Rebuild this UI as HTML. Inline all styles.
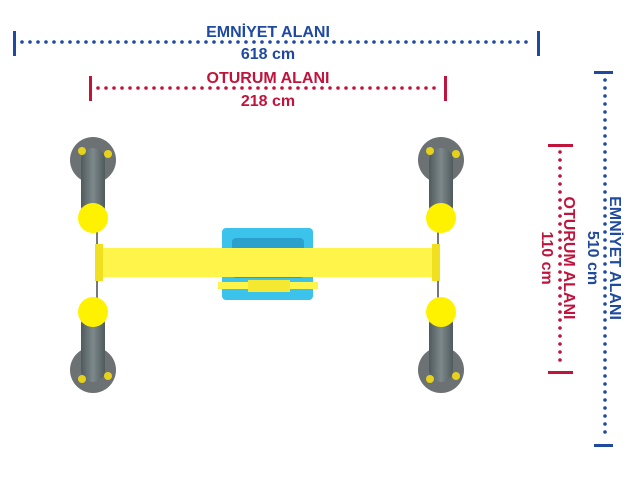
<!DOCTYPE html>
<html><head><meta charset="utf-8"><style>html,body{margin:0;padding:0;background:#fff}svg{display:block}</style></head><body>
<svg width="640" height="480" viewBox="0 0 640 480" xmlns="http://www.w3.org/2000/svg" font-family="Liberation Sans, sans-serif" font-weight="bold">
<line x1="22" y1="42" x2="534" y2="42" stroke="#1f4aa0" stroke-width="3.6" stroke-linecap="round" stroke-dasharray="0 8"/>
<rect x="13" y="31" width="3" height="25" fill="#1f4aa0"/>
<rect x="537" y="31" width="3" height="25" fill="#1f4aa0"/>
<text x="268" y="37" font-size="16" fill="#1f4aa0" text-anchor="middle">EMNİYET ALANI</text>
<text x="268" y="59" font-size="16" fill="#1f4aa0" text-anchor="middle">618 cm</text>
<line x1="98" y1="88" x2="440" y2="88" stroke="#c0143c" stroke-width="3.6" stroke-linecap="round" stroke-dasharray="0 8"/>
<rect x="89" y="76" width="3" height="25" fill="#c0143c"/>
<rect x="444" y="76" width="3" height="25" fill="#c0143c"/>
<text x="268" y="83" font-size="16" fill="#c0143c" text-anchor="middle">OTURUM ALANI</text>
<text x="268" y="106" font-size="16" fill="#c0143c" text-anchor="middle">218 cm</text>
<line x1="605" y1="80" x2="605" y2="440" stroke="#1f4aa0" stroke-width="3.6" stroke-linecap="round" stroke-dasharray="0 8"/>
<rect x="594" y="71" width="19" height="3" fill="#1f4aa0"/>
<rect x="594" y="444" width="19" height="3" fill="#1f4aa0"/>
<text transform="translate(610,258) rotate(90)" font-size="16" fill="#1f4aa0" text-anchor="middle">EMNİYET ALANI</text>
<text transform="translate(588,258) rotate(90)" font-size="16" fill="#1f4aa0" text-anchor="middle">510 cm</text>
<line x1="560" y1="152" x2="560" y2="368" stroke="#c0143c" stroke-width="3.6" stroke-linecap="round" stroke-dasharray="0 8"/>
<rect x="548" y="144" width="25" height="3" fill="#c0143c"/>
<rect x="548" y="371" width="25" height="3" fill="#c0143c"/>
<text transform="translate(564,258) rotate(90)" font-size="16" fill="#c0143c" text-anchor="middle">OTURUM ALANI</text>
<text transform="translate(542,258) rotate(90)" font-size="16" fill="#c0143c" text-anchor="middle">110 cm</text>

<defs>
<linearGradient id="pipe" x1="0" x2="1"><stop offset="0" stop-color="#4f5a5c"/><stop offset="0.5" stop-color="#7d898b"/><stop offset="1" stop-color="#4f5a5c"/></linearGradient>
<g id="postT">
<circle cx="0" cy="0" r="23" fill="#6c7173"/>
<rect x="-12" y="-12" width="24" height="70" rx="12" fill="url(#pipe)"/>
<circle cx="-11" cy="-9" r="4" fill="#e6d21a"/>
<circle cx="15" cy="-6" r="4" fill="#e6d21a"/>
<circle cx="0" cy="58" r="15" fill="#fff200"/>
</g>
</defs>
<line x1="97" y1="225" x2="97" y2="300" stroke="#777" stroke-width="2"/>
<line x1="438" y1="225" x2="438" y2="300" stroke="#777" stroke-width="2"/>
<use href="#postT" transform="translate(93,160)"/>
<use href="#postT" transform="translate(93,370) scale(1,-1)"/>
<use href="#postT" transform="translate(441,160)"/>
<use href="#postT" transform="translate(441,370) scale(1,-1)"/>
<rect x="222" y="228" width="91" height="72" rx="4" fill="#3cc3ec"/>
<rect x="232" y="238" width="72" height="40" rx="4" fill="#2aa0cc"/>
<rect x="97" y="248" width="341" height="29" fill="#fff44a"/>
<rect x="95" y="244" width="8" height="37" fill="#f0e020"/>
<rect x="432" y="244" width="8" height="37" fill="#f0e020"/>
<rect x="218" y="282" width="100" height="7" fill="#fff44a"/>
<rect x="248" y="280" width="42" height="12" fill="#f5e830"/>
</svg>
</body></html>
